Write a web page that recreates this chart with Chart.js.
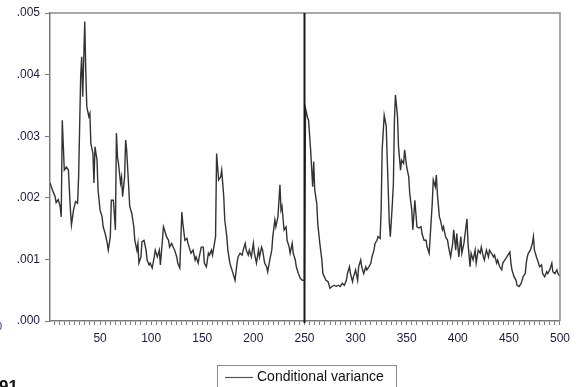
<!DOCTYPE html>
<html>
<head>
<meta charset="utf-8">
<script src="https://cdn.jsdelivr.net/npm/chart.js@4.4.0/dist/chart.umd.min.js"></script>
<style>
  html, body { margin: 0; padding: 0; background: #fff; }
  #wrap { width: 576px; height: 387px; position: relative; }
</style>
</head>
<body>
<div id="wrap"><canvas id="variance-graph"></canvas></div>
<script>
const obsIndex = [
  1, 4, 6, 7, 9, 11, 12, 13, 15, 17, 19, 21, 22, 24, 26, 28, 29, 31, 32, 33,
  35, 36, 37, 39, 40, 41, 43, 44, 45, 47, 48, 50, 52, 53, 55, 57, 58, 60, 61, 63,
  65, 66, 67, 68, 70, 71, 72, 74, 75, 76, 78, 79, 81, 83, 84, 86, 87, 88, 90, 91,
  93, 95, 96, 98, 99, 101, 103, 104, 106, 108, 109, 111, 112, 113, 115, 117, 118, 120, 122, 123,
  125, 126, 128, 130, 131, 133, 135, 136, 138, 139, 141, 143, 144, 146, 147, 149, 151, 152, 154, 156,
  157, 159, 160, 163, 164, 166, 168, 169, 171, 172, 174, 175, 177, 179, 181, 182, 184, 185, 187, 189,
  190, 192, 193, 195, 196, 198, 200, 201, 203, 205, 206, 208, 209, 211, 213, 214, 216, 218, 219, 221,
  222, 224, 226, 227, 228, 230, 232, 233, 235, 236, 238, 239, 241, 242, 244, 246, 248, 250, 251, 253,
  254, 256, 258, 259, 260, 262, 263, 265, 267, 268, 271, 273, 275, 277, 279, 281, 283, 285, 287, 289,
  291, 292, 294, 295, 297, 298, 300, 302, 303, 305, 306, 308, 310, 311, 313, 315, 316, 318, 319, 321,
  322, 324, 325, 326, 328, 330, 331, 333, 334, 336, 337, 338, 339, 341, 342, 344, 345, 347, 348, 350,
  352, 353, 355, 356, 358, 359, 360, 362, 364, 365, 367, 369, 370, 372, 373, 375, 376, 378, 379, 380,
  382, 383, 385, 386, 388, 390, 391, 393, 395, 396, 398, 399, 401, 403, 404, 406, 408, 409, 410, 412,
  413, 415, 417, 418, 420, 422, 423, 425, 426, 428, 430, 431, 433, 435, 436, 438, 439, 441, 443, 444,
  446, 448, 449, 451, 452, 453, 455, 457, 458, 460, 462, 464, 466, 467, 468, 469, 471, 473, 474, 475,
  477, 479, 480, 482, 483, 485, 487, 488, 490, 492, 493, 495, 497, 498, 500
];

const condVariance = [
  0.00224, 0.00210, 0.00202, 0.00192, 0.00197, 0.00186, 0.00169, 0.00326, 0.00245, 0.00250,
  0.00245, 0.00180, 0.00156, 0.00180, 0.00194, 0.00191, 0.00234, 0.00397, 0.00429, 0.00364,
  0.00486, 0.00407, 0.00348, 0.00332, 0.00337, 0.00288, 0.00272, 0.00224, 0.00283, 0.00261,
  0.00213, 0.00180, 0.00169, 0.00153, 0.00142, 0.00126, 0.00115, 0.00137, 0.00196, 0.00196,
  0.00148, 0.00305, 0.00267, 0.00256, 0.00224, 0.00234, 0.00202, 0.00234, 0.00294, 0.00278,
  0.00218, 0.00186, 0.00175, 0.00153, 0.00131, 0.00115, 0.00126, 0.00094, 0.00104, 0.00129,
  0.00131, 0.00115, 0.00099, 0.00091, 0.00094, 0.00086, 0.00104, 0.00115, 0.00104, 0.00115,
  0.00091, 0.00131, 0.00153, 0.00148, 0.00137, 0.00131, 0.00120, 0.00126, 0.00118, 0.00115,
  0.00104, 0.00094, 0.00086, 0.00177, 0.00158, 0.00131, 0.00134, 0.00126, 0.00115, 0.00110,
  0.00115, 0.00099, 0.00104, 0.00094, 0.00104, 0.00120, 0.00120, 0.00094, 0.00088, 0.00110,
  0.00107, 0.00115, 0.00107, 0.00137, 0.00272, 0.00229, 0.00234, 0.00245, 0.00202, 0.00164,
  0.00137, 0.00115, 0.00094, 0.00083, 0.00072, 0.00066, 0.00094, 0.00104, 0.00110, 0.00107,
  0.00115, 0.00126, 0.00115, 0.00107, 0.00115, 0.00104, 0.00126, 0.00110, 0.00094, 0.00115,
  0.00104, 0.00120, 0.00115, 0.00094, 0.00088, 0.00080, 0.00099, 0.00115, 0.00137, 0.00164,
  0.00153, 0.00169, 0.00221, 0.00180, 0.00186, 0.00148, 0.00153, 0.00131, 0.00120, 0.00110,
  0.00126, 0.00110, 0.00099, 0.00088, 0.00077, 0.00069, 0.00066, 0.00066, 0.00345, 0.00330,
  0.00326, 0.00278, 0.00218, 0.00259, 0.00213, 0.00191, 0.00158, 0.00126, 0.00099, 0.00077,
  0.00066, 0.00064, 0.00053, 0.00056, 0.00058, 0.00056, 0.00058, 0.00056, 0.00061, 0.00058,
  0.00066, 0.00077, 0.00088, 0.00077, 0.00064, 0.00072, 0.00083, 0.00066, 0.00088, 0.00099,
  0.00088, 0.00077, 0.00088, 0.00083, 0.00088, 0.00094, 0.00104, 0.00115, 0.00126, 0.00131,
  0.00137, 0.00134, 0.00180, 0.00278, 0.00334, 0.00316, 0.00261, 0.00160, 0.00137, 0.00191,
  0.00224, 0.00326, 0.00367, 0.00332, 0.00283, 0.00245, 0.00261, 0.00256, 0.00278, 0.00250,
  0.00234, 0.00207, 0.00180, 0.00148, 0.00196, 0.00175, 0.00153, 0.00151, 0.00153, 0.00142,
  0.00131, 0.00131, 0.00120, 0.00110, 0.00137, 0.00191, 0.00229, 0.00218, 0.00237, 0.00207,
  0.00169, 0.00164, 0.00148, 0.00153, 0.00137, 0.00131, 0.00120, 0.00104, 0.00126, 0.00148,
  0.00115, 0.00142, 0.00104, 0.00137, 0.00110, 0.00126, 0.00153, 0.00166, 0.00126, 0.00088,
  0.00110, 0.00099, 0.00115, 0.00094, 0.00115, 0.00110, 0.00120, 0.00104, 0.00099, 0.00115,
  0.00104, 0.00115, 0.00110, 0.00104, 0.00107, 0.00094, 0.00099, 0.00088, 0.00083, 0.00094,
  0.00099, 0.00104, 0.00107, 0.00112, 0.00094, 0.00083, 0.00072, 0.00066, 0.00058, 0.00056,
  0.00061, 0.00072, 0.00077, 0.00094, 0.00104, 0.00110, 0.00115, 0.00126, 0.00137, 0.00115,
  0.00104, 0.00094, 0.00088, 0.00091, 0.00077, 0.00072, 0.00080, 0.00077, 0.00083, 0.00094,
  0.00080, 0.00077, 0.00083, 0.00077, 0.00072
];

const xTickLabels = [50, 100, 150, 200, 250, 300, 350, 400, 450, 500];
const seriesLabel = 'Conditional variance';
const breakObs = 250;

const ctx = document.getElementById('variance-graph');

const points = obsIndex.map((o, i) => ({ x: o, y: condVariance[i] }));

// box around the plot, the split line, the legend box and the cut-off bits at the edge
const extras = {
    id: 'extras',
    afterDraw(chart) {
        const c = chart.ctx;
        const a = chart.chartArea;
        c.save();

        c.strokeStyle = '#8c8c8c';
        c.lineWidth = 1.5;
        c.beginPath();
        c.moveTo(a.left, a.top);
        c.lineTo(a.right, a.top);
        c.lineTo(a.right, a.bottom);
        c.stroke();

        const xb = chart.scales.x.getPixelForValue(breakObs);
        c.strokeStyle = '#1a1a1a';
        c.lineWidth = 2;
        c.beginPath();
        c.moveTo(xb, a.top);
        c.lineTo(xb, a.bottom + 2);
        c.stroke();

        c.strokeStyle = '#8c8c8c';
        c.lineWidth = 1;
        c.strokeRect(217.5, 365.5, 179, 30);
        c.strokeStyle = '#555';
        c.lineWidth = 1.2;
        c.beginPath();
        c.moveTo(225, 377.5);
        c.lineTo(253, 377.5);
        c.stroke();
        c.fillStyle = '#111';
        c.font = '14px "Liberation Sans", Arial, sans-serif';
        c.textBaseline = 'middle';
        c.fillText(seriesLabel, 257, 377);

        c.font = 'bold 17px "Liberation Sans", Arial, sans-serif';
        c.textBaseline = 'alphabetic';
        c.fillStyle = '#111';
        c.fillText('91', -1, 392);
        c.font = '11px "Liberation Sans", Arial, sans-serif';
        c.fillStyle = '#2a3a9a';
        c.fillText('0', -4, 330);

        c.restore();
    }
};

const graph = new Chart(ctx, {
    type: 'line',
    data: {
        datasets: [{
            label: seriesLabel,
            data: points,
            borderColor: '#333333',
            borderWidth: 1.4,
            pointRadius: 0,
            fill: false,
            tension: 0
        }]
    },
    options: {
        responsive: true,
        maintainAspectRatio: false,
        animation: false,
        layout: {
            padding: { top: 13, right: 13, left: 0, bottom: 0 }
        },
        plugins: {
            legend: { display: false },
            tooltip: { enabled: false }
        },
        scales: {
            x: {
                type: 'linear',
                min: 1,
                max: 500,
                afterFit: (s) => { s.height = 66; },
                grid: { drawOnChartArea: false, tickLength: 4, color: '#7a7a7a' },
                border: { color: '#7a7a7a', width: 1.5 },
                ticks: {
                    stepSize: 5,
                    autoSkip: false,
                    includeBounds: false,
                    maxRotation: 0,
                    padding: 6,
                    color: '#1c1c3c',
                    font: { family: '"Liberation Sans", Arial, sans-serif', size: 12 },
                    callback: (v) => xTickLabels.includes(v) ? String(v) : ''
                }
            },
            y: {
                min: 0,
                max: 0.005,
                afterFit: (s) => { s.width = 50; },
                grid: { drawOnChartArea: false, tickLength: 5, color: '#7a7a7a' },
                border: { color: '#7a7a7a', width: 1.5 },
                ticks: {
                    stepSize: 0.001,
                    padding: 5,
                    color: '#1c1c3c',
                    font: { family: '"Liberation Sans", Arial, sans-serif', size: 12 },
                    callback: (v) => v.toFixed(3).replace(/^0/, '')
                }
            }
        }
    },
    plugins: [extras]
});
</script>
</body>
</html>
